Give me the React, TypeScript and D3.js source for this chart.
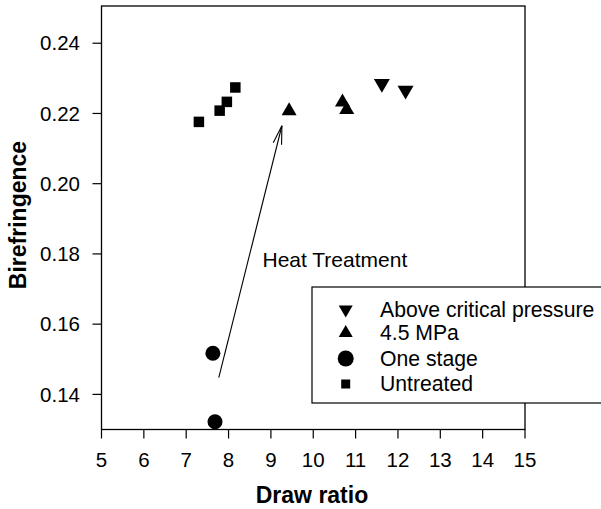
import React from 'react';
import * as d3 from 'd3';

const xTicks = [5, 6, 7, 8, 9, 10, 11, 12, 13, 14, 15];
const yTicks = [0.14, 0.16, 0.18, 0.2, 0.22, 0.24];

const aboveX = [11.62, 12.18];
const aboveY = [0.2285, 0.2266];
const mpaX = [9.43, 10.69, 10.79];
const mpaY = [0.2207, 0.2232, 0.2211];
const oneStageX = [7.63, 7.68];
const oneStageY = [0.1517, 0.1322];
const untreatedX = [7.3, 7.79, 7.96, 8.16];
const untreatedY = [0.2176, 0.2208, 0.2233, 0.2274];

const arrowFrom = [7.77, 0.1448];
const arrowTo = [9.26, 0.2165];
const annotation = 'Heat Treatment';

const legendLabels = ['Above critical pressure', '4.5 MPa', 'One stage', 'Untreated'];
const legendKinds = ['down', 'up', 'circle', 'square'];

const W = 601;
const H = 509;
const FONT = "'Liberation Sans', Arial, Helvetica, sans-serif";

const x = d3.scaleLinear().domain([5, 15]).range([101.5, 525]);
const y = d3.scaleLinear().domain([0.13, 0.2506]).range([429.5, 6]);

function marker(kind: string, cx: number, cy: number, s: number, key: string) {
  if (kind === 'circle') return <circle key={key} cx={cx} cy={cy} r={s / 2} fill="#000" />;
  if (kind === 'square')
    return <rect key={key} x={cx - s / 2} y={cy - s / 2} width={s} height={s} fill="#000" />;
  const area = (s * s * Math.sqrt(3)) / 4;
  const p = d3.symbol().type(d3.symbolTriangle).size(area)() as string;
  const rot = kind === 'down' ? 180 : 0;
  return <path key={key} d={p} transform={`translate(${cx},${cy}) rotate(${rot})`} fill="#000" />;
}

export default function App() {
  const x0 = x(5), x1 = x(15), yb = y(0.13), yt = y(0.2506);
  const ax = x(arrowFrom[0]), ay = y(arrowFrom[1]);
  const bx = x(arrowTo[0]), by = y(arrowTo[1]);
  const ang = Math.atan2(ay - by, ax - bx);
  const barb = 19;
  const da = (13 * Math.PI) / 180;
  const b1 = [bx + barb * Math.cos(ang - da), by + barb * Math.sin(ang - da)];
  const b2 = [bx + barb * Math.cos(ang + da), by + barb * Math.sin(ang + da)];

  const legX = 312, legY = 287, rowY = [309.5, 333, 358.5, 384];
  const legSizes = [14, 14, 16, 9];

  return (
    <svg width={W} height={H} style={{ position: 'absolute', left: 0, top: 0, background: '#fff' }}
      fontFamily={FONT}>
      <rect x={0} y={0} width={W} height={H} fill="#fff" />
      {/* frame */}
      <rect x={x0} y={yt} width={x1 - x0} height={yb - yt} fill="none" stroke="#000" strokeWidth={1.3} />
      {/* x ticks */}
      {xTicks.map((t) => (
        <g key={'xt' + t}>
          <line x1={x(t)} x2={x(t)} y1={yb} y2={yb + 9} stroke="#000" strokeWidth={1.2} />
          <text x={x(t)} y={467} fontSize={20.5} textAnchor="middle" fill="#000">{t}</text>
        </g>
      ))}
      {/* y ticks */}
      {yTicks.map((t) => (
        <g key={'yt' + t}>
          <line x1={x0 - 9} x2={x0} y1={y(t)} y2={y(t)} stroke="#000" strokeWidth={1.2} />
          <text x={80} y={y(t)} dy="0.35em" fontSize={20.5} textAnchor="end" fill="#000">{t.toFixed(2)}</text>
        </g>
      ))}
      <text x={312} y={503} fontSize={23} fontWeight="bold" textAnchor="middle" fill="#000">Draw ratio</text>
      <text transform={`translate(26,215) rotate(-90)`} fontSize={23} fontWeight="bold" textAnchor="middle" fill="#000">Birefringence</text>

      {/* arrow */}
      <line x1={ax} y1={ay} x2={bx} y2={by} stroke="#000" strokeWidth={1.1} />
      <line x1={bx} y1={by} x2={b1[0]} y2={b1[1]} stroke="#000" strokeWidth={1.1} />
      <line x1={bx} y1={by} x2={b2[0]} y2={b2[1]} stroke="#000" strokeWidth={1.1} />
      <text x={262.5} y={267} fontSize={21} fill="#000">{annotation}</text>

      {/* data */}
      {untreatedX.map((v, i) => marker('square', x(v), y(untreatedY[i]), 10.5, 'u' + i))}
      {oneStageX.map((v, i) => marker('circle', x(v), y(oneStageY[i]), 15, 'o' + i))}
      {mpaX.map((v, i) => marker('up', x(v), y(mpaY[i]), 15, 'm' + i))}
      {aboveX.map((v, i) => marker('down', x(v), y(aboveY[i]), 16, 'a' + i))}

      {/* legend */}
      <rect x={legX} y={legY} width={300} height={116} fill="#fff" stroke="#000" strokeWidth={1.2} />
      {legendLabels.map((l, i) => (
        <g key={'lg' + i}>
          {marker(legendKinds[i], 345.7, rowY[i], legSizes[i], 'lm' + i)}
          <text x={380} y={rowY[i]} dy="0.35em" fontSize={21.2} fill="#000">{l}</text>
        </g>
      ))}
    </svg>
  );
}
